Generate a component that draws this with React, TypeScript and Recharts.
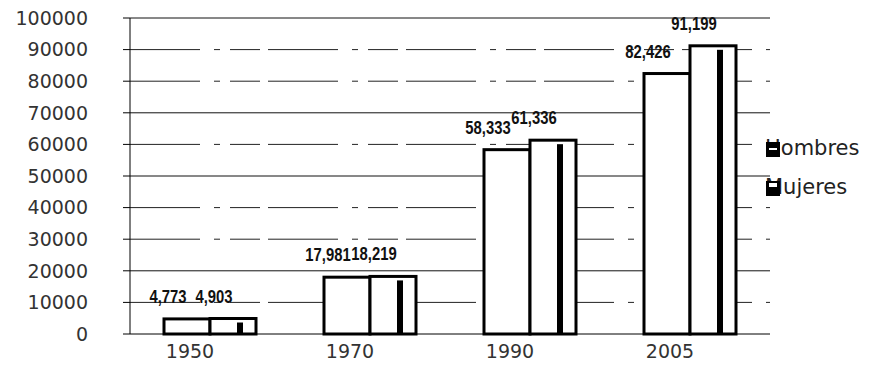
import React from 'react';
import {
  BarChart,
  Bar,
  XAxis,
  YAxis,
  CartesianGrid,
  Legend,
  LabelList,
} from 'recharts';

const years = ['1950', '1970', '1990', '2005'];
const hombres = [4773, 17981, 58333, 82426];
const mujeres = [4903, 18219, 61336, 91199];
const yTicks = [0, 10000, 20000, 30000, 40000, 50000, 60000, 70000, 80000, 90000, 100000];
const solidGrid = [20000, 50000, 70000, 100000];
const brokenGrid = [10000, 30000, 40000, 60000, 80000, 90000];
const boundaryTicks = [0, 1, 2, 3, 4];

const data = years.map((year, i) => ({ year, Hombres: hombres[i], Mujeres: mujeres[i] }));

const tickFont = { fontFamily: 'DejaVu Sans', fontSize: 19, fill: '#333' };

// value labels sit a bit left of the bar centre, like in the original
const renderLabel = (props: any) => {
  const { x, y, width, value } = props;
  const txt = Number(value).toLocaleString('en-US');
  const cx = x + width / 2 - 19;
  const cy = y - 16;
  return (
    <text
      transform={`translate(${cx},${cy}) scale(0.78,1)`}
      textAnchor="middle"
      fontFamily="'Liberation Sans', Arial, sans-serif"
      fontWeight="bold"
      fontSize={19}
      fill="#111"
    >
      {txt}
    </text>
  );
};

const HombresShape = (props: any) => {
  const { x, y, width, height } = props;
  return <rect x={x} y={y} width={width} height={height} fill="#fff" stroke="#000" strokeWidth={3} />;
};

const MujeresShape = (props: any) => {
  const { x, y, width, height } = props;
  return (
    <g>
      <rect x={x} y={y} width={width} height={height} fill="#fff" stroke="#000" strokeWidth={3} />
      <rect x={x + 27} y={y + 4} width={6} height={Math.max(height - 4, 0)} fill="#000" />
    </g>
  );
};

const renderLegend = (props: any) => {
  const { payload } = props;
  return (
    <div>
      {payload.map((entry: any, i: number) => (
        <div key={entry.value} style={{ position: 'relative', height: 39 }}>
          <span style={{ fontFamily: 'DejaVu Sans', fontSize: 21, color: '#222', whiteSpace: 'nowrap' }}>
            {entry.value}
          </span>
          <span
            style={{
              position: 'absolute',
              left: 1,
              top: 6,
              width: 14,
              height: 15,
              background: '#000',
            }}
          >
            <span
              style={{
                position: 'absolute',
                left: 3,
                top: i === 0 ? 6 : 2,
                width: 8,
                height: i === 0 ? 2 : 4,
                background: '#fff',
              }}
            />
          </span>
        </div>
      ))}
    </div>
  );
};

export default function App() {
  return (
    <div style={{ position: 'absolute', left: 0, top: 0, background: '#fff' }}>
      <BarChart
        width={872}
        height={382}
        data={data}
        margin={{ top: 18, right: 102, bottom: 18, left: 0 }}
        barGap={0}
        barSize={46}
      >
        <CartesianGrid vertical={false} horizontalValues={solidGrid} stroke="#111" strokeWidth={1} />
        <CartesianGrid
          vertical={false}
          horizontalValues={brokenGrid}
          stroke="#222"
          strokeWidth={1}
          strokeDasharray="70 14 6 10 30 8"
        />
        <XAxis
          dataKey="year"
          tick={{ ...tickFont, dx: -20 }}
          tickLine={false}
          tickSize={0}
          tickMargin={11}
          axisLine={{ stroke: '#000', strokeWidth: 1 }}
          height={30}
        />
        <XAxis
          xAxisId="bounds"
          type="number"
          domain={[0, 4]}
          ticks={boundaryTicks}
          tick={false}
          tickSize={6}
          tickLine={{ stroke: '#000' }}
          axisLine={false}
          height={0}
        />
        <YAxis
          domain={[0, 100000]}
          ticks={yTicks}
          interval={0}
          tick={tickFont}
          tickSize={7}
          tickMargin={35}
          tickLine={{ stroke: '#000' }}
          axisLine={{ stroke: '#000', strokeWidth: 1 }}
          width={130}
        />
        <Legend
          layout="horizontal"
          align="center"
          verticalAlign="middle"
          content={renderLegend}
          wrapperStyle={{ left: 765, top: 136, width: 110 }}
        />
        <Bar dataKey="Hombres" shape={HombresShape} isAnimationActive={false}>
          <LabelList dataKey="Hombres" content={renderLabel} />
        </Bar>
        <Bar dataKey="Mujeres" shape={MujeresShape} isAnimationActive={false}>
          <LabelList dataKey="Mujeres" content={renderLabel} />
        </Bar>
      </BarChart>
    </div>
  );
}
